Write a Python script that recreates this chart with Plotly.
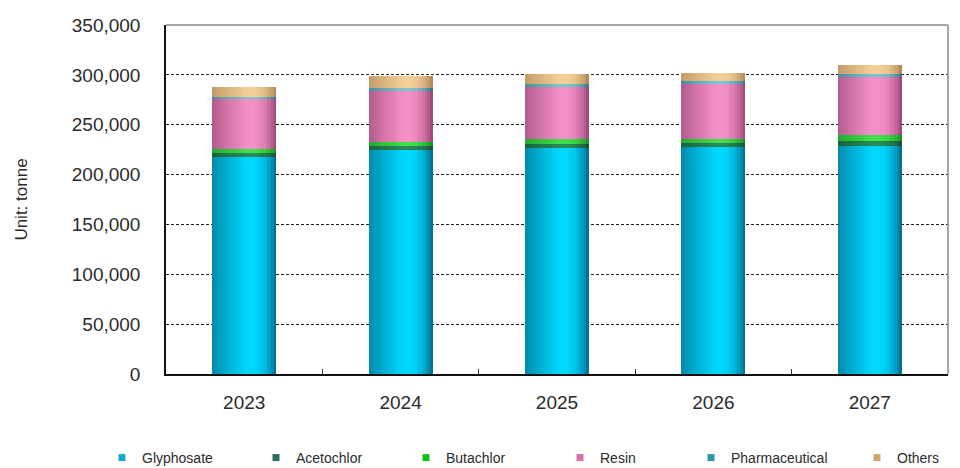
import numpy as np
import plotly.graph_objects as go

# ---- data (tonnes) ----
years = ["2023", "2024", "2025", "2026", "2027"]
glyphosate = [218000, 225000, 227000, 228000, 229000]
acetochlor = [3500, 4000, 3500, 4000, 4500]
butachlor = [4000, 4000, 5500, 4000, 6500]
resin = [50000, 51000, 51500, 55000, 58000]
pharmaceutical = [2500, 3000, 3500, 3000, 3000]
others = [10000, 12000, 10000, 8000, 9000]

series_names = ["Glyphosate", "Acetochlor", "Butachlor", "Resin", "Pharmaceutical", "Others"]
series_values = [glyphosate, acetochlor, butachlor, resin, pharmaceutical, others]

y_ticks = [0, 50000, 100000, 150000, 200000, 250000, 300000, 350000]

# ---- styling ----
# (edge colour, highlight colour) for the cylinder-like shading of each segment
shades = [
    ("#035f7e", "#00d8ff"),
    ("#0f4a2e", "#2a8a58"),
    ("#138a1c", "#3fe04a"),
    ("#8e3f6c", "#f590c8"),
    ("#24707f", "#7cc4d2"),
    ("#a67e4e", "#f5cf98"),
]
legend_colors = ["#17a9cf", "#2c6e50", "#12c412", "#dc6fa8", "#2f93a8", "#c9a66a"]

FONT = "Liberation Sans, Arial, sans-serif"
TEXT = "#2b2b2b"

BAR_W = 0.41
N_STRIPS = 24


def hex_rgb(h):
    h = h.lstrip("#")
    return np.array([int(h[i:i + 2], 16) for i in (0, 2, 4)], dtype=float)


def mix(c0, c1, s):
    c = hex_rgb(c0) * (1 - s) + hex_rgb(c1) * s
    return "rgb(%d,%d,%d)" % tuple(np.clip(np.round(c), 0, 255))


def shade(t):
    # highlight a bit right of centre, left side lighter than the right edge
    s = np.sin(np.pi * t ** 1.36) ** 0.75
    if t < 0.5:
        s = max(s, 0.35 * (1 - 2 * t) + s * 0.9)
    return min(s, 1.0)


fig = go.Figure()

stack = np.array(series_values, dtype=float)
bases = np.vstack([np.zeros(len(years)), np.cumsum(stack, axis=0)[:-1]])

strip_w = BAR_W / N_STRIPS
for k, name in enumerate(series_names):
    edge, peak = shades[k]
    for i in range(N_STRIPS):
        t = (i + 0.5) / N_STRIPS
        width = strip_w * (1.4 if i < N_STRIPS - 1 else 1.0)
        fig.add_trace(go.Bar(
            x=years,
            y=series_values[k],
            base=bases[k],
            width=width,
            offset=-BAR_W / 2 + i * strip_w,
            marker=dict(color=mix(edge, peak, shade(t)), line=dict(width=0)),
            showlegend=False,
            hoverinfo="skip",
        ))

# legend entries, one small square per series, each legend placed on its own
legend_px = [128, 282, 432, 586, 717, 883]
PLOT_L, PLOT_R, PLOT_T, PLOT_B = 166, 948, 25, 374
for k, name in enumerate(series_names):
    lid = "legend" if k == 0 else "legend%d" % (k + 1)
    fig.add_trace(go.Scatter(
        x=[None], y=[None], mode="markers", name=name,
        marker=dict(symbol="square", size=7, color=legend_colors[k]),
        legend=lid, showlegend=True,
    ))
    fig.update_layout(**{lid: dict(
        x=(legend_px[k] - 26 - PLOT_L) / (PLOT_R - PLOT_L),
        y=(PLOT_B - 458) / (PLOT_B - PLOT_T),
        xanchor="left", yanchor="middle",
        bgcolor="rgba(0,0,0,0)",
        font=dict(family=FONT, size=14, color=TEXT),
        itemsizing="trace",
        orientation="h",
    )})

fig.update_layout(
    width=960, height=468,
    margin=dict(l=PLOT_L, r=960 - PLOT_R, t=PLOT_T, b=468 - PLOT_B, autoexpand=False),
    paper_bgcolor="white", plot_bgcolor="white",
    barmode="overlay",
    bargap=0,
    font=dict(family=FONT, size=14, color=TEXT),
    xaxis=dict(
        type="category",
        categoryorder="array", categoryarray=years,
        showline=True, linecolor="#111111", linewidth=1.5,
        mirror=False,
        ticks="inside", ticklen=5, tickcolor="#333333",
        tickson="boundaries",
        showgrid=False,
        tickfont=dict(family=FONT, size=19, color=TEXT),
        ticklabelstandoff=10,
        range=[-0.5, 4.5],
    ),
    yaxis=dict(
        range=[0, 350000],
        tickvals=y_ticks,
        tickformat=",d",
        showline=True, linecolor="#111111", linewidth=1.5,
        showgrid=True, gridcolor="#222222", gridwidth=1, griddash="3px,2px",
        zeroline=False,
        ticks="",
        tickfont=dict(family=FONT, size=19, color=TEXT),
        ticklabelstandoff=20,
        title=dict(text="Unit: tonne", font=dict(family=FONT, size=17, color=TEXT), standoff=40),
    ),
)

# top and right frame of the plot area in a lighter grey
fig.add_shape(type="line", xref="paper", yref="paper", x0=0, x1=1, y0=1, y1=1,
              line=dict(color="#8a8a8a", width=1.5), layer="above")
fig.add_shape(type="line", xref="paper", yref="paper", x0=1, x1=1, y0=0, y1=1,
              line=dict(color="#8a8a8a", width=1.5), layer="above")

fig.write_html("out.html")
